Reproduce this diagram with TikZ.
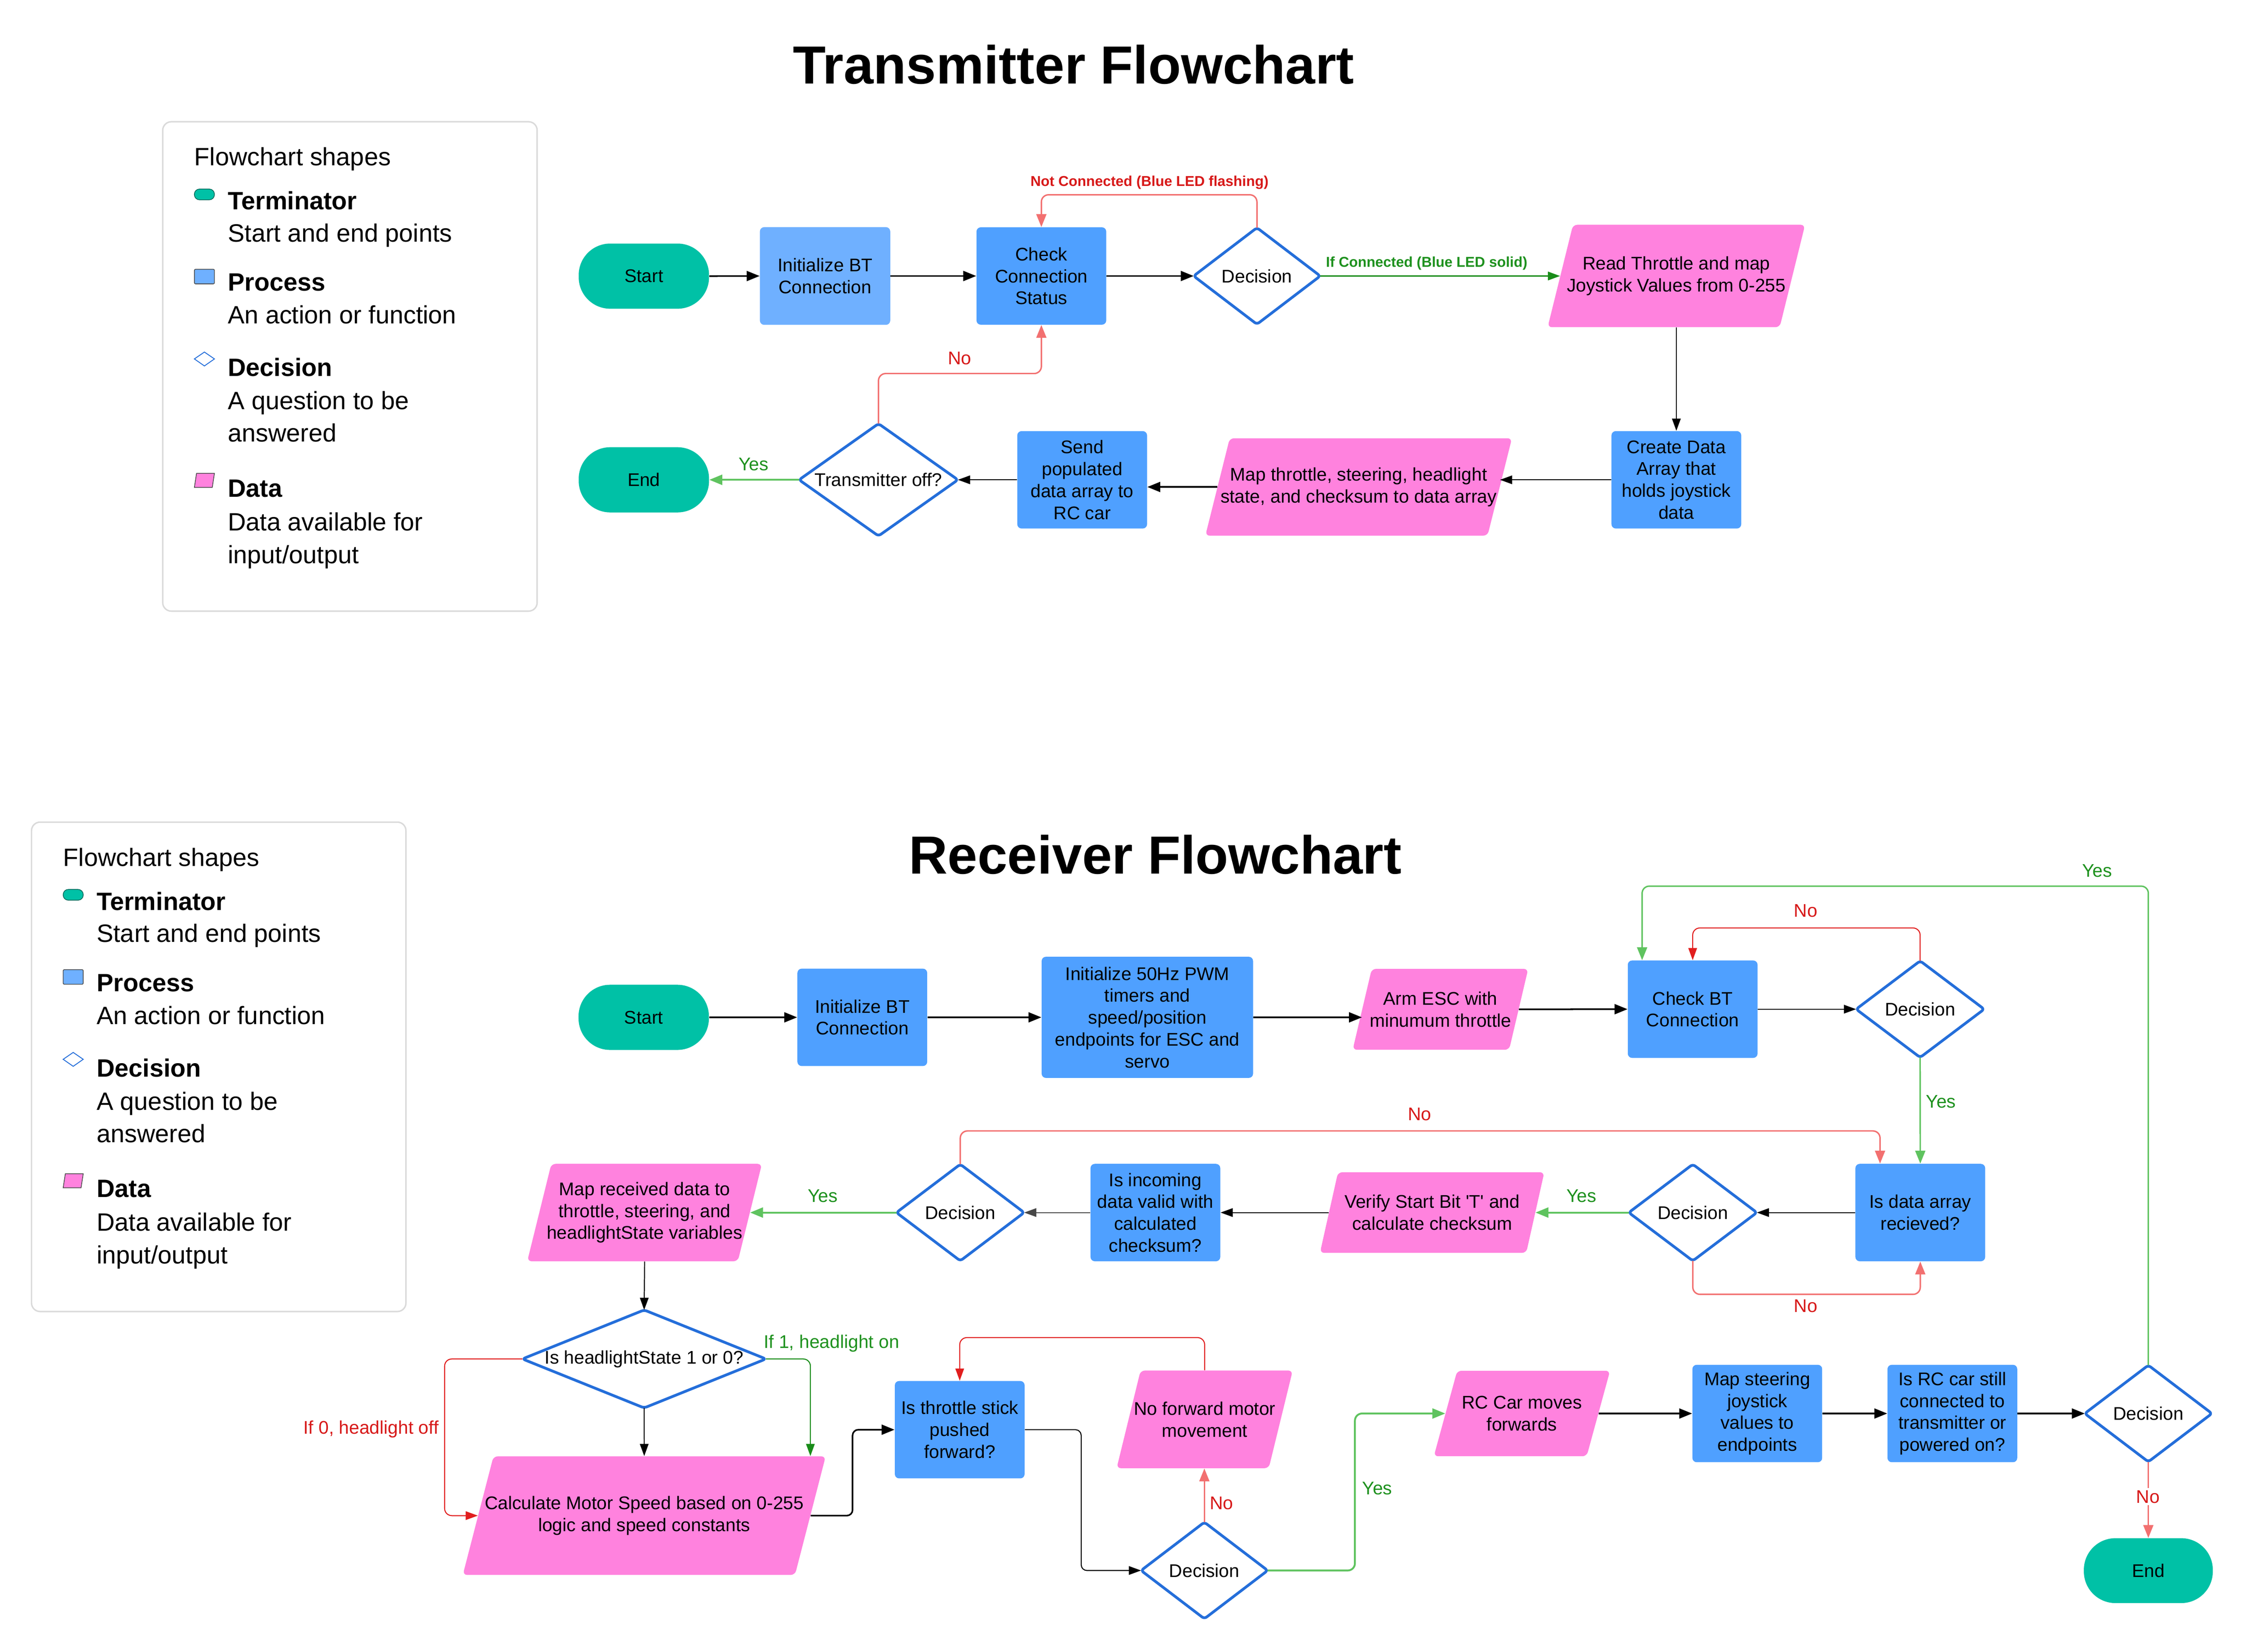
\documentclass[tikz,border=0pt]{standalone}
\usepackage{fontspec}
\setmainfont{Liberation Sans}
\usetikzlibrary{arrows.meta,calc}
\definecolor{termc}{RGB}{0,193,166}
\definecolor{procc}{RGB}{79,160,255}
\definecolor{procl}{RGB}{111,176,255}
\definecolor{datac}{RGB}{255,130,222}
\definecolor{decc}{RGB}{36,110,218}
\definecolor{cRedL}{RGB}{242,112,112}
\definecolor{cRedD}{RGB}{225,30,30}
\definecolor{cRedT}{RGB}{215,25,25}
\definecolor{cGrnL}{RGB}{95,195,95}
\definecolor{cGrnD}{RGB}{25,140,25}
\definecolor{cGrnT}{RGB}{30,145,30}
\definecolor{legbc}{RGB}{218,218,218}
\tikzset{
  txt/.style={font=\fontsize{12.8}{15.3}\selectfont, align=center, inner sep=0pt},
  termn/.style={txt, fill=termc, rounded corners=22pt, minimum width=91pt, minimum height=45.5pt},
  procn/.style={txt, fill=procc, rounded corners=3pt, minimum width=90.6pt, minimum height=68pt},
  decbox/.style={txt, minimum width=88pt, minimum height=67pt},
  decline/.style={draw=decc, line width=1.9pt, rounded corners=2pt, line join=round},
  datafill/.style={fill=datac, rounded corners=3pt},
  bigtip/.style={-{Triangle[length=9pt,width=7pt]}},
  smtip/.style={-{Triangle[length=8.5pt,width=6pt]}},
  blk/.style={bigtip, draw=black, line width=1.1pt, rounded corners=4pt},
  blkt/.style={smtip, draw=black, line width=0.7pt, rounded corners=4pt},
  gryt/.style={blkt, draw=black!72},
  lred/.style={bigtip, draw=cRedL, line width=1pt, rounded corners=5pt},
  dred/.style={smtip, draw=cRedD, line width=0.7pt, rounded corners=5pt},
  lgrn/.style={bigtip, draw=cGrnL, line width=1.3pt, rounded corners=5pt},
  dgrn/.style={smtip, draw=cGrnD, line width=0.9pt, rounded corners=5pt},
  lblr/.style={font=\fontsize{12.8}{15}\selectfont, text=cRedT, inner sep=0pt},
  lblg/.style={font=\fontsize{12.8}{15}\selectfont, text=cGrnT, inner sep=0pt},
  blr/.style={font=\bfseries\fontsize{10}{12}\selectfont, text=cRedT, inner sep=0pt, anchor=base},
  blg/.style={font=\bfseries\fontsize{10}{12}\selectfont, text=cGrnT, inner sep=0pt, anchor=base},
  titlen/.style={font=\bfseries\fontsize{37.5}{40}\selectfont, anchor=base, inner sep=0pt},
  legt/.style={font=\fontsize{17.5}{22.7}\selectfont, inner sep=0pt, anchor=base west},
  legbold/.style={legt, font=\bfseries\fontsize{17.5}{22.7}\selectfont},
  legbox/.style={draw=legbc, line width=1pt, rounded corners=6pt},
}
% decision outline drawn on a named node's anchors
\newcommand\diamo[1]{\draw[decline] (#1.north) -- (#1.east) -- (#1.south) -- (#1.west) -- cycle;}
% data parallelogram: name, cx, cy, width at mid height, height, slant, text
\newcommand\datashape[7]{%
  \fill[datafill] ({#2-#4/2+#6/2},{#3-#5/2}) -- ({#2+#4/2+#6/2},{#3-#5/2}) -- ({#2+#4/2-#6/2},{#3+#5/2}) -- ({#2-#4/2-#6/2},{#3+#5/2}) -- cycle;
  \node[txt, minimum width=#4pt, minimum height=#5pt] (#1) at (#2,#3) {#7};}
% legend panel
\newcommand\legendat[3]{%
\begin{scope}[shift={(#2,#3)}]
  \draw[legbox] (113.6,85) rectangle (375,426.7);
  \node[legt] (#1t) at (135.5,115.7) {Flowchart shapes};
  \draw[fill=termc, draw=termc!55!black, line width=0.5pt, rounded corners=3.6pt] (135.7,132) rectangle (149.7,139.5);
  \node[legbold] (#1a) at (158.9,146.4) {Terminator};
  \node[legt] (#1b) at (158.9,168.9) {Start and end points};
  \draw[fill=procl, draw=black!70, line width=0.5pt, rounded corners=0.8pt] (135.7,188) rectangle (149.7,198.2);
  \node[legbold] (#1c) at (158.9,203.2) {Process};
  \node[legt] (#1d) at (158.9,226) {An action or function};
  \draw[draw=decc, line width=0.6pt] (142.7,245.8) -- (149.7,250.6) -- (142.7,255.5) -- (135.7,250.6) -- cycle;
  \node[legbold] (#1e) at (158.9,262.7) {Decision};
  \node[legt] (#1f) at (158.9,286) {A question to be};
  \node[legt] (#1g) at (158.9,308.5) {answered};
  \draw[fill=datac, draw=black!70, line width=0.5pt] (137.2,330.5) -- (149.7,330.5) -- (148.2,340.3) -- (135.7,340.3) -- cycle;
  \node[legbold] (#1h) at (158.9,347) {Data};
  \node[legt] (#1i) at (158.9,370.5) {Data available for};
  \node[legt] (#1j) at (158.9,393.4) {input/output};
\end{scope}}
\begin{document}
\begin{tikzpicture}[x=1pt,y=-1pt]
\useasboundingbox[fill=white] (0,0) rectangle (1568,1153.2);

% ---------------- titles ----------------
\node[titlen] (ttitle) at (749.5,58.5) {Transmitter Flowchart};
\node[titlen] (rtitle) at (806.5,610) {Receiver Flowchart};

% ---------------- legends ----------------
\legendat{lga}{0}{0}
\legendat{lgb}{-91.6}{489}

% ---------------- transmitter ----------------
\node[termn] (tstart) at (449.5,192.8) {Start};
\node[procn, fill=procl, minimum width=91pt, minimum height=68.2pt] (tinit) at (576,192.7) {Initialize BT\\Connection};
\node[procn] (tchk) at (727,192.7) {Check\\Connection\\Status};
\node[decbox] (tdec) at (877.5,192.7) {Decision}; \diamo{tdec}
\datashape{tread}{1170.3}{192.7}{162}{71.5}{17.7}{Read Throttle and map\\Joystick Values from 0-255}
\node[procn] (tcreate) at (1170.3,335) {Create Data\\Array that\\holds joystick\\data};
\datashape{tmap}{948.5}{340}{197}{68}{17}{Map throttle, steering, headlight\\state, and checksum to data array}
\node[procn] (tsend) at (755.5,335) {Send\\populated\\data array to\\RC car};
\node[decbox, minimum width=110.5pt, minimum height=78pt] (toff) at (613.3,335) {Transmitter off?}; \diamo{toff}
\node[termn] (tend) at (449.5,335) {End};

\draw[blk] (tstart.east) -- (tinit.west);
\draw[blk] (tinit.east) -- (tchk.west);
\draw[blk] (tchk.east) -- (tdec.west);
\draw[lred] (tdec.north) -- ++(0,-23) -| (tchk.north);
\node[blr] (lnc) at (802.5,130) {Not Connected (Blue LED flashing)};
\draw[dgrn] (tdec.east) -- (tread.west);
\node[blg] (lic) at (996,186.5) {If Connected (Blue LED solid)};
\draw[blkt] (tread.south) -- (tcreate.north);
\draw[blkt] (tcreate.west) -- (tcreate.west -| tmap.east);
\draw[blk] (tmap.west) -- (tmap.west -| tsend.east);
\draw[blkt] (tsend.west) -- (toff.east);
\draw[lgrn] (toff.west) -- (tend.east);
\node[lblg] (ly1) at (526,324) {Yes};
\draw[lred] (toff.north) -- ++(0,-35) -| (tchk.south);
\node[lblr] (ln1) at (670,250) {No};

% ---------------- receiver ----------------
\node[termn] (rstart) at (449.4,710.3) {Start};
\node[procn] (rinit) at (602,710.3) {Initialize BT\\Connection};
\node[procn, minimum width=147.6pt, minimum height=84.6pt] (rpwm) at (801,710.3) {Initialize 50Hz PWM\\timers and\\speed/position\\endpoints for ESC and\\servo};
\datashape{rarm}{1005.6}{704.7}{109.2}{56.5}{13.3}{Arm ESC with\\minumum throttle}
\node[procn] (rchk) at (1181.7,704.6) {Check BT\\Connection};
\node[decbox, minimum width=89pt] (rd1) at (1340.5,704.6) {Decision}; \diamo{rd1}
\node[procn] (rdata) at (1340.6,846.6) {Is data array\\recieved?};
\node[decbox, minimum width=89pt] (rd2) at (1181.8,846.6) {Decision}; \diamo{rd2}
\datashape{rver}{999.8}{846.6}{144}{56.3}{12.6}{Verify Start Bit \textquotesingle T\textquotesingle{} and\\calculate checksum}
\node[procn] (rinc) at (806.6,846.6) {Is incoming\\data valid with\\calculated\\checksum?};
\node[decbox, minimum width=88.8pt] (rd3) at (670.4,846.6) {Decision}; \diamo{rd3}
\datashape{rmaprec}{450}{846.6}{147}{68}{16.8}{Map received data to\\throttle, steering, and\\headlightState variables}
\node[decbox, minimum width=169.6pt, minimum height=68pt] (rhl) at (449.7,948.8) {Is headlightState 1 or 0?}; \diamo{rhl}
\datashape{rcalc}{449.75}{1058.2}{231.9}{82.8}{21.4}{Calculate Motor Speed based on 0-255\\logic and speed constants}
\node[procn] (rthr) at (670,998.2) {Is throttle stick\\pushed\\forward?};
\datashape{rnof}{841}{991}{106.2}{68.2}{16.7}{No forward motor\\movement}
\node[decbox] (rd4) at (840.8,1096.5) {Decision}; \diamo{rd4}
\datashape{rrc}{1062.5}{986.9}{106.7}{59.7}{16.3}{RC Car moves\\forwards}
\node[procn] (rmap) at (1226.8,986.9) {Map steering\\joystick\\values to\\endpoints};
\node[procn] (risrc) at (1363,986.9) {Is RC car still\\connected to\\transmitter or\\powered on?};
\node[decbox, minimum width=88.4pt] (rd5) at (1499.8,986.9) {Decision}; \diamo{rd5}
\node[termn, minimum width=90pt, minimum height=45.3pt] (rend) at (1499.8,1096.6) {End};

\draw[blk] (rstart.east) -- (rinit.west);
\draw[blk] (rinit.east) -- (rpwm.west);
\draw[blk] (rpwm.east) -- (rpwm.east -| rarm.west);
\draw[blk] (rarm.east) -- (rchk.west);
\draw[blkt] (rchk.east) -- (rd1.west);
\draw[dred] (rd1.north) -- ++(0,-23) -| (rchk.north);
\node[lblr] (ln2) at (1260.6,636) {No};
\draw[lgrn, line width=1pt] (rd1.south) -- (rdata.north);
\node[lblg] (ly2) at (1355,769) {Yes};
\draw[blkt] (rdata.west) -- (rd2.east);
\draw[lred] (rd2.south) -- ++(0,23.4) -| (rdata.south);
\node[lblr] (ln3) at (1260.6,911.8) {No};
\draw[lgrn] (rd2.west) -- (rd2.west -| rver.east);
\node[lblg] (ly3) at (1104,835) {Yes};
\draw[blkt] (rver.west) -- (rver.west -| rinc.east);
\draw[gryt] (rinc.west) -- (rd3.east);
\draw[lred] (rd3.north) -- ++(0,-23.3) -| ([xshift=-28.1pt]rdata.north);
\node[lblr] (ln4) at (991,778) {No};
\draw[lgrn] (rd3.west) -- (rd3.west -| rmaprec.east);
\node[lblg] (ly4) at (574.4,835) {Yes};
\draw[blkt] (rmaprec.south) -- (rhl.north);
\draw[blkt] (rhl.south) -- (rcalc.north);
\draw[dred] (rhl.west) -- ++(-54.3,0) |- (rcalc.west);
\node[lblr] (lh0) at (259,998) {If 0, headlight off};
\draw[dgrn, line width=0.7pt] (rhl.east) -| ([xshift=116pt]rcalc.north);
\node[lblg] (lh1) at (580.5,938) {If 1, headlight on};
\draw[blk] (rcalc.east) -- ++(29.3,0) |- (rthr.west);
\draw[blkt] (rthr.east) -- ++(39.3,0) |- (rd4.west);
\draw[lred] (rd4.north) -- (rd4.north |- rnof.south);
\node[lblr] (ln5) at (852.8,1049.4) {No};
\draw[dred] (rnof.north) -- ++(0,-22.8) -| (rthr.north);
\draw[lgrn] (rd4.east) -- ++(60.9,0) |- (rrc.west);
\node[lblg] (ly5) at (961.5,1039) {Yes};
\draw[blk] (rrc.east) -- (rmap.west);
\draw[blk] (rmap.east) -- (risrc.west);
\draw[blk] (risrc.east) -- (rd5.west);
\draw[lred] (rd5.south) -- (rend.north);
\node[lblr, fill=white, inner sep=1.5pt] (ln6) at (1499.6,1045) {No};
\draw[lgrn, line width=1pt] (rd5.north) -- ++(0,-334.5) -| ([xshift=-35.3pt]rchk.north);
\node[lblg] (ly6) at (1464,608) {Yes};
\end{tikzpicture}
\end{document}
